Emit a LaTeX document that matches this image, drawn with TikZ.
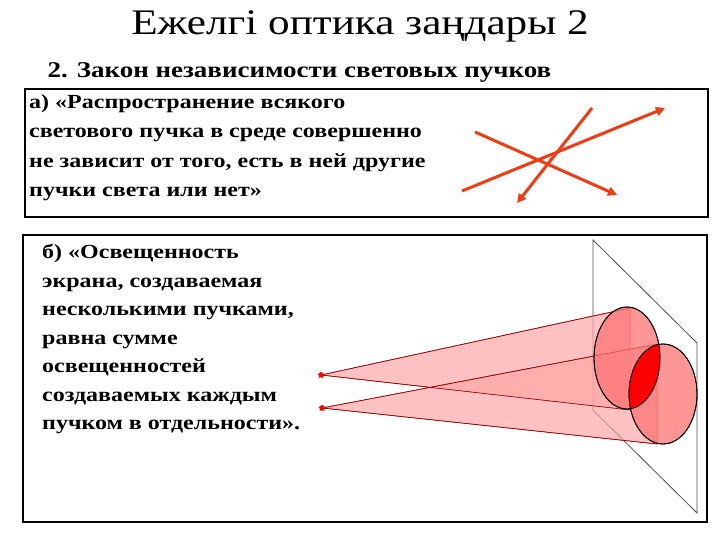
\documentclass[tikz,border=0pt]{standalone}
\usepackage{fontspec}
\setmainfont{Liberation Serif}[FakeStretch=1.2]
\usetikzlibrary{arrows.meta,shapes.geometric}
\begin{document}
\begin{tikzpicture}[x=1pt,y=-1pt,
  frame/.style={draw=black,line width=2.5pt},
  ray/.style={draw={rgb,255:red,240;green,60;blue,20},line width=3pt,-{Triangle[length=9pt,width=9pt]}},
  body/.style={font=\fontsize{20}{28.5}\selectfont\bfseries,align=left,anchor=north west,inner sep=0pt},
  cone/.style={fill=red!35,fill opacity=0.7,draw=red!60!black,line width=0.5pt},
  disk/.style={fill=red!55,fill opacity=0.75,draw=black,line width=0.8pt}]
\useasboundingbox (0,0) rectangle (720,540);
\node (title) at (360,26) {\fontsize{36}{40}\selectfont Ежелгі оптика заңдары 2};
\node[anchor=west,font=\fontsize{22.5}{24}\selectfont\bfseries] (sub) at (44,72) {2. Закон независимости световых пучков};
\draw[frame] (25,89) rectangle (708,217);
\node[body,font=\fontsize{20}{29.5}\selectfont\bfseries] (ta) at (29,94) {а) «Распространение всякого\\светового пучка в среде совершенно\\не зависит от того, есть в ней другие\\пучки света или нет»};
\coordinate (a1) at (475,132); \coordinate (a2) at (617,195);
\coordinate (b1) at (462,191); \coordinate (b2) at (665,108);
\coordinate (c1) at (592,108); \coordinate (c2) at (517,203);
\draw[ray] (a1) -- (a2);
\draw[ray] (b1) -- (b2);
\draw[ray] (c1) -- (c2);
\draw[frame] (23,235) rectangle (707,522);
\node[body] (tb) at (42,244) {б) «Освещенность\\экрана, создаваемая\\несколькими пучками,\\равна сумме\\освещенностей\\создаваемых каждым\\пучком в отдельности».};
% screen
\coordinate (s1) at (593,240); \coordinate (s2) at (593,410);
\coordinate (s3) at (697,513); \coordinate (s4) at (697,343);
\draw[gray!60!black,line width=0.8pt] (s1) -- (s2) -- (s3) -- (s4) -- cycle;
% stars
\coordinate (p1) at (321,375); \coordinate (p2) at (322,408);
\fill[cone] (p1) -- (630,308) -- (630,410) -- cycle;
\fill[cone] (p2) -- (657,344) -- (657,444) -- cycle;
\draw[red!60!black,line width=0.6pt] (p1) -- (630,308) (p1) -- (630,410) (p2) -- (657,344) (p2) -- (657,444);
\draw[disk] (627,358) ellipse [x radius=33,y radius=51];
\draw[disk] (663,394) ellipse [x radius=34,y radius=50];
\begin{scope}
\clip (627,358) ellipse [x radius=33,y radius=51];
\fill[red] (663,394) ellipse [x radius=34,y radius=50];
\end{scope}
\draw[black,line width=0.8pt] (627,358) ellipse [x radius=33,y radius=51];
\draw[black,line width=0.8pt] (663,394) ellipse [x radius=34,y radius=50];
\node[star,star points=5,fill=red,inner sep=0pt,minimum size=7pt] (st1) at (p1) {};
\node[star,star points=5,fill=red,inner sep=0pt,minimum size=7pt] (st2) at (p2) {};
\end{tikzpicture}
\end{document}
